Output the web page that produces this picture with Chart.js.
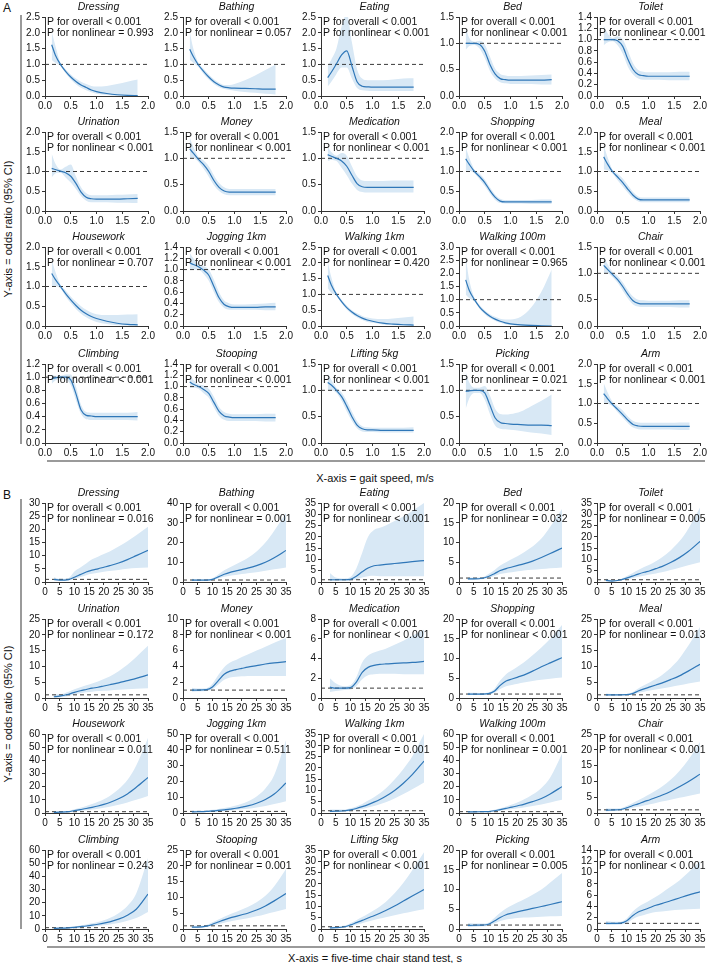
<!DOCTYPE html>
<html><head><meta charset="utf-8">
<script src="https://cdn.jsdelivr.net/npm/chart.js@4.4.0/dist/chart.umd.min.js"></script>
<style>
body{margin:0;background:#fff;}
#wrap{position:relative;width:709px;height:963px;overflow:hidden;font-family:"Liberation Sans",Arial,Helvetica,sans-serif;color:#111;background:#fff;}
canvas{position:absolute;}
.lbl{position:absolute;font-size:11px;white-space:nowrap;}
.bar{position:absolute;background:#9a9a9a;}
.ctr{transform:translate(-50%,-50%);}
.rot{transform:translate(-50%,-50%) rotate(-90deg);}
</style></head><body><div id="wrap">
<div class="lbl" style="left:3px;top:1px;font-size:12px">A</div>
<div class="lbl" style="left:3px;top:488px;font-size:12px">B</div>
<div class="bar" style="left:20px;top:15px;width:2px;height:429px"></div>
<div class="bar" style="left:47px;top:460px;width:658px;height:2px"></div>
<div class="bar" style="left:20px;top:499px;width:2px;height:430px"></div>
<div class="bar" style="left:47px;top:946px;width:658px;height:2px"></div>
<div class="lbl rot" style="left:8px;top:229px">Y-axis = odds ratio (95% CI)</div>
<div class="lbl rot" style="left:8px;top:714px">Y-axis = odds ratio (95% CI)</div>
<div class="lbl ctr" style="left:375px;top:478px">X-axis = gait speed, m/s</div>
<div class="lbl ctr" style="left:375px;top:958px">X-axis = five-time chair stand test, s</div>
</div>
<script>
// ---------- categories & labels ----------
const outcomes = ['Dressing','Bathing','Eating','Bed','Toilet','Urination','Money','Medication','Shopping','Meal','Housework','Jogging 1km','Walking 1km','Walking 100m','Chair','Climbing','Stooping','Lifting 5kg','Picking','Arm'];
const pOverall = '< 0.001';
const pNonlinearA = ['= 0.993','= 0.057','< 0.001','< 0.001','< 0.001','< 0.001','< 0.001','< 0.001','< 0.001','< 0.001','= 0.707','< 0.001','= 0.420','= 0.965','< 0.001','< 0.001','< 0.001','< 0.001','= 0.021','< 0.001'];
const pNonlinearB = ['= 0.016','= 0.001','< 0.001','= 0.032','= 0.005','= 0.172','< 0.001','< 0.001','< 0.001','= 0.013','= 0.011','= 0.511','= 0.001','= 0.001','< 0.001','= 0.243','= 0.001','< 0.001','= 0.005','< 0.001'];
const yMaxA = [2.5,2.5,2.5,1.5,1.4, 2.0,1.5,1.5,2.0,2.0, 2.0,1.4,2.5,3.0,1.5, 1.2,1.4,1.5,1.5,2.0];
const yStepA = [0.5,0.5,0.5,0.5,0.2, 0.5,0.5,0.5,0.5,0.5, 0.5,0.2,0.5,0.5,0.5, 0.2,0.2,0.5,0.5,0.5];
const yMaxB = [30,40,35,20,35, 25,10,8,20,25, 60,50,35,60,25, 60,25,35,20,14];
const yStepB = [5,10,5,5,5, 5,2,2,5,5, 10,10,5,10,5, 10,5,5,5,2];
const xTicksA = {min:0, max:2, step:0.5};
const xTicksB = {min:0, max:35, step:5};

// ---------- A: gait speed (m/s) ----------
const xA = [0.13,0.2,0.3,0.4,0.5,0.6,0.7,0.8,0.9,1.0,1.2,1.4,1.6,1.8];
const gDressingOR = [1.62,1.3,1.0,0.78,0.6,0.46,0.35,0.27,0.19,0.14,0.08,0.04,0.02,0.01];
const gDressingLo = [1.15,1.05,0.95,0.72,0.52,0.37,0.26,0.18,0.12,0.07,0.03,0.01,0.0,0.0];
const gDressingHi = [2.05,1.6,1.05,0.85,0.68,0.55,0.45,0.38,0.32,0.3,0.32,0.38,0.45,0.52];
const gBathingOR = [1.48,1.25,0.98,0.78,0.6,0.45,0.35,0.28,0.26,0.25,0.24,0.23,0.22,0.22];
const gBathingLo = [1.15,1.05,0.92,0.7,0.52,0.38,0.28,0.22,0.19,0.17,0.13,0.1,0.07,0.05];
const gBathingHi = [2.05,1.5,1.05,0.86,0.68,0.53,0.42,0.35,0.35,0.38,0.5,0.65,0.82,1.0];
const gEatingOR = [0.58,0.75,1.02,1.3,1.43,0.95,0.45,0.31,0.29,0.28,0.28,0.28,0.28,0.28];
const gEatingLo = [0.3,0.45,0.7,0.9,0.9,0.55,0.25,0.18,0.17,0.16,0.16,0.16,0.16,0.16];
const gEatingHi = [0.95,1.15,1.5,2.2,2.6,1.7,0.85,0.55,0.5,0.5,0.5,0.52,0.55,0.56];
const gBedOR = [1.0,1.0,1.0,0.98,0.85,0.6,0.42,0.33,0.31,0.3,0.3,0.3,0.3,0.31];
const gBedLo = [0.88,0.95,0.97,0.9,0.72,0.48,0.33,0.26,0.24,0.23,0.23,0.23,0.22,0.22];
const gBedHi = [1.3,1.1,1.03,1.05,0.98,0.75,0.52,0.42,0.39,0.38,0.38,0.39,0.4,0.41];
const gToiletOR = [1.0,1.0,1.0,0.98,0.88,0.65,0.47,0.38,0.36,0.35,0.35,0.35,0.35,0.35];
const gToiletLo = [0.9,0.95,0.97,0.9,0.75,0.52,0.38,0.31,0.29,0.29,0.29,0.28,0.28,0.28];
const gToiletHi = [1.25,1.12,1.03,1.06,1.0,0.8,0.58,0.46,0.43,0.42,0.42,0.42,0.43,0.43];
const gUrinationOR = [1.08,1.05,1.01,0.97,0.88,0.7,0.48,0.35,0.31,0.3,0.3,0.3,0.31,0.32];
const gUrinationLo = [0.85,0.95,0.97,0.85,0.72,0.56,0.38,0.26,0.22,0.22,0.22,0.21,0.21,0.2];
const gUrinationHi = [1.45,1.2,1.05,1.12,1.18,0.88,0.6,0.45,0.4,0.4,0.4,0.41,0.42,0.43];
const gMoneyOR = [1.18,1.1,0.98,0.88,0.75,0.58,0.45,0.38,0.36,0.36,0.36,0.36,0.36,0.36];
const gMoneyLo = [1.0,1.0,0.93,0.8,0.65,0.49,0.38,0.32,0.3,0.3,0.3,0.3,0.3,0.3];
const gMoneyHi = [1.4,1.22,1.03,0.96,0.85,0.68,0.53,0.45,0.42,0.42,0.42,0.42,0.42,0.42];
const gMedicationOR = [1.07,1.04,1.0,0.95,0.85,0.68,0.52,0.46,0.45,0.45,0.45,0.45,0.45,0.45];
const gMedicationLo = [0.95,0.97,0.95,0.82,0.68,0.52,0.4,0.36,0.35,0.35,0.35,0.35,0.35,0.35];
const gMedicationHi = [1.22,1.12,1.05,1.1,1.05,0.85,0.66,0.58,0.57,0.57,0.57,0.58,0.58,0.58];
const gShoppingOR = [1.32,1.18,1.0,0.87,0.72,0.52,0.35,0.25,0.23,0.23,0.23,0.23,0.23,0.23];
const gShoppingLo = [1.02,1.02,0.95,0.8,0.63,0.44,0.28,0.2,0.19,0.19,0.19,0.18,0.18,0.18];
const gShoppingHi = [1.62,1.35,1.05,0.94,0.8,0.6,0.42,0.31,0.28,0.28,0.28,0.28,0.29,0.29];
const gMealOR = [1.37,1.2,1.0,0.86,0.72,0.55,0.4,0.3,0.28,0.28,0.28,0.28,0.28,0.28];
const gMealLo = [1.05,1.03,0.95,0.78,0.62,0.46,0.32,0.24,0.22,0.22,0.22,0.22,0.22,0.22];
const gMealHi = [1.68,1.38,1.05,0.94,0.82,0.65,0.48,0.37,0.34,0.34,0.34,0.34,0.34,0.34];
const gHouseworkOR = [1.33,1.18,1.0,0.82,0.66,0.52,0.4,0.31,0.24,0.19,0.12,0.07,0.04,0.03];
const gHouseworkLo = [1.0,1.0,0.95,0.75,0.58,0.43,0.31,0.22,0.15,0.1,0.05,0.02,0.01,0.0];
const gHouseworkHi = [1.68,1.38,1.05,0.9,0.75,0.62,0.5,0.41,0.34,0.3,0.28,0.28,0.29,0.3];
const gJoggingOR = [1.12,1.09,1.05,0.99,0.9,0.7,0.5,0.38,0.34,0.33,0.33,0.33,0.34,0.34];
const gJoggingLo = [1.0,1.0,1.0,0.92,0.8,0.6,0.42,0.32,0.29,0.29,0.29,0.29,0.28,0.28];
const gJoggingHi = [1.3,1.2,1.1,1.06,1.0,0.82,0.6,0.45,0.4,0.38,0.38,0.39,0.4,0.41];
const gWalk1kmOR = [1.6,1.3,1.0,0.77,0.58,0.44,0.33,0.25,0.19,0.15,0.09,0.06,0.04,0.03];
const gWalk1kmLo = [1.2,1.05,0.95,0.72,0.52,0.38,0.27,0.19,0.13,0.1,0.05,0.02,0.01,0.0];
const gWalk1kmHi = [2.05,1.55,1.05,0.83,0.65,0.5,0.4,0.32,0.27,0.24,0.22,0.24,0.27,0.3];
const gWalk100mOR = [1.75,1.35,1.0,0.72,0.52,0.37,0.26,0.18,0.12,0.08,0.04,0.02,0.01,0.0];
const gWalk100mLo = [1.2,1.05,0.93,0.65,0.45,0.3,0.2,0.12,0.07,0.04,0.01,0.0,0.0,0.0];
const gWalk100mHi = [2.65,1.75,1.07,0.8,0.6,0.45,0.35,0.28,0.25,0.25,0.35,0.7,1.3,2.15];
const gChairOR = [1.15,1.08,0.98,0.88,0.75,0.6,0.48,0.43,0.42,0.42,0.42,0.42,0.42,0.42];
const gChairLo = [1.0,1.0,0.93,0.82,0.67,0.52,0.41,0.37,0.36,0.36,0.36,0.36,0.35,0.35];
const gChairHi = [1.33,1.18,1.03,0.95,0.83,0.68,0.56,0.5,0.49,0.48,0.48,0.48,0.49,0.49];
const gClimbingOR = [0.98,0.99,1.0,1.0,0.96,0.75,0.5,0.42,0.41,0.4,0.4,0.4,0.4,0.4];
const gClimbingLo = [0.9,0.95,0.97,0.96,0.88,0.65,0.44,0.36,0.35,0.35,0.35,0.35,0.35,0.34];
const gClimbingHi = [1.04,1.02,1.02,1.04,1.04,0.86,0.58,0.47,0.46,0.46,0.46,0.46,0.46,0.47];
const gStoopingOR = [1.08,1.04,1.0,0.95,0.88,0.72,0.56,0.48,0.46,0.45,0.45,0.45,0.45,0.45];
const gStoopingLo = [0.98,0.98,0.96,0.88,0.8,0.63,0.48,0.41,0.39,0.39,0.39,0.39,0.38,0.38];
const gStoopingHi = [1.2,1.12,1.04,1.02,0.96,0.82,0.64,0.55,0.52,0.51,0.51,0.51,0.52,0.52];
const gLiftingOR = [1.15,1.1,1.0,0.88,0.7,0.5,0.34,0.27,0.25,0.25,0.24,0.24,0.24,0.24];
const gLiftingLo = [1.0,1.0,0.95,0.8,0.6,0.42,0.28,0.22,0.21,0.21,0.2,0.2,0.2,0.2];
const gLiftingHi = [1.32,1.2,1.05,0.96,0.8,0.6,0.42,0.32,0.3,0.29,0.29,0.29,0.29,0.3];
const gPickingOR = [0.98,0.99,1.0,1.0,0.95,0.72,0.48,0.39,0.37,0.36,0.35,0.34,0.34,0.33];
const gPickingLo = [0.65,0.85,0.95,0.95,0.82,0.55,0.33,0.27,0.26,0.25,0.23,0.2,0.18,0.15];
const gPickingHi = [1.35,1.15,1.05,1.05,1.08,0.9,0.65,0.55,0.54,0.55,0.6,0.7,0.8,0.92];
const gArmOR = [1.25,1.13,0.98,0.85,0.72,0.58,0.47,0.43,0.42,0.42,0.42,0.42,0.42,0.42];
const gArmLo = [1.02,1.0,0.93,0.78,0.64,0.5,0.39,0.35,0.34,0.34,0.34,0.34,0.33,0.33];
const gArmHi = [1.52,1.3,1.05,0.93,0.82,0.67,0.56,0.52,0.51,0.51,0.51,0.51,0.52,0.52];

// ---------- B: five-time chair stand test (s) ----------
const xB = [3,5,8,10,12,14,16,18,20,22,25,28,31,35];
const cDressingOR = [1.0,0.7,0.9,1.8,2.8,3.8,4.5,5.0,5.6,6.2,7.2,8.5,10.0,12.0];
const cDressingLo = [0.5,0.4,0.6,1.2,1.9,2.6,3.1,3.5,3.9,4.2,4.6,5.0,5.3,5.5];
const cDressingHi = [1.8,1.2,1.5,4.0,5.5,7.0,8.6,9.6,10.6,11.6,13.5,15.5,17.8,21.0];
const cBathingOR = [0.9,0.9,0.95,1.3,2.6,3.9,4.9,5.6,6.3,7.0,8.3,10.0,12.3,16.0];
const cBathingLo = [0.5,0.6,0.7,0.9,1.8,2.6,3.2,3.6,4.0,4.4,5.0,5.7,6.4,7.3];
const cBathingHi = [1.6,1.3,1.3,1.9,3.8,5.9,7.5,9.0,10.5,12.2,15.5,20.0,26.0,35.0];
const cEatingOR = [1.0,1.0,1.0,1.2,2.5,4.5,6.2,7.2,7.5,7.8,8.2,8.6,9.0,9.5];
const cEatingLo = [0.3,0.5,0.6,0.7,1.2,2.0,2.6,2.8,2.6,2.5,2.5,2.5,2.5,2.5];
const cEatingHi = [4.0,2.0,1.6,2.2,6.0,13.0,20.0,23.0,24.0,25.0,27.0,29.0,31.5,35.0];
const cBedOR = [0.8,0.8,0.95,1.4,2.1,2.9,3.4,3.8,4.2,4.6,5.3,6.2,7.2,8.6];
const cBedLo = [0.5,0.55,0.7,1.0,1.5,2.0,2.3,2.5,2.7,2.9,3.1,3.3,3.5,3.7];
const cBedHi = [1.2,1.1,1.2,2.0,3.0,4.2,5.0,5.8,6.6,7.5,9.0,11.0,14.0,18.5];
const cToiletOR = [0.7,0.4,0.9,1.7,2.6,3.5,4.3,5.0,5.9,6.8,8.6,10.8,13.5,18.0];
const cToiletLo = [0.3,0.2,0.6,1.1,1.7,2.3,2.8,3.3,3.8,4.3,5.3,6.3,7.4,8.8];
const cToiletHi = [1.5,0.8,1.3,2.5,3.9,5.3,6.6,7.8,9.2,10.8,14.0,18.0,23.5,33.0];
const cUrinationOR = [0.4,0.6,1.2,1.8,2.3,2.7,3.1,3.4,3.8,4.2,4.8,5.5,6.2,7.3];
const cUrinationLo = [0.1,0.2,0.6,1.1,1.5,1.8,2.0,2.2,2.3,2.4,2.6,2.8,2.9,3.1];
const cUrinationHi = [1.2,1.2,2.0,2.8,3.4,4.0,4.6,5.2,6.0,6.8,8.5,10.5,13.0,16.5];
const cMoneyOR = [1.0,1.0,1.05,1.4,2.2,3.0,3.4,3.6,3.75,3.9,4.1,4.3,4.45,4.6];
const cMoneyLo = [0.8,0.85,0.9,1.1,1.7,2.3,2.6,2.7,2.75,2.8,2.8,2.8,2.8,2.8];
const cMoneyHi = [1.3,1.2,1.25,1.8,2.9,3.9,4.5,4.8,5.2,5.5,6.0,6.5,7.0,7.6];
const cMedicationOR = [1.1,1.0,1.0,1.05,1.6,2.6,3.1,3.3,3.4,3.45,3.5,3.55,3.6,3.7];
const cMedicationLo = [0.6,0.7,0.8,0.85,1.2,1.9,2.3,2.4,2.45,2.45,2.45,2.4,2.4,2.4];
const cMedicationHi = [2.0,1.5,1.2,1.3,2.1,3.6,4.3,4.6,4.8,5.0,5.4,5.8,6.3,6.9];
const cShoppingOR = [1.0,1.0,1.0,1.1,1.7,3.2,4.3,4.8,5.3,5.8,6.8,7.9,8.9,10.2];
const cShoppingLo = [0.7,0.75,0.8,0.85,1.3,2.3,3.0,3.3,3.6,3.9,4.3,4.6,4.9,5.2];
const cShoppingHi = [1.4,1.3,1.25,1.4,2.3,4.4,6.0,7.0,8.0,9.0,10.8,12.8,15.0,18.5];
const cMealOR = [1.0,1.0,1.0,1.05,1.4,2.2,2.9,3.5,4.1,4.7,5.8,7.0,8.5,10.7];
const cMealLo = [0.7,0.75,0.8,0.85,1.1,1.6,2.0,2.4,2.7,3.0,3.5,4.0,4.6,5.2];
const cMealHi = [1.4,1.3,1.25,1.3,1.8,3.0,4.0,5.0,6.0,7.2,9.5,12.5,16.5,22.5];
const cHouseworkOR = [0.5,0.6,1.0,1.8,2.6,3.4,4.3,5.3,6.5,8.0,10.8,14.5,19.5,27.0];
const cHouseworkLo = [0.2,0.3,0.6,1.1,1.6,2.1,2.7,3.3,4.0,4.8,6.3,8.0,10.0,13.0];
const cHouseworkHi = [1.2,1.2,1.6,2.8,4.0,5.4,6.8,8.5,10.5,13.0,18.0,25.0,36.0,57.0];
const cJoggingOR = [0.7,0.8,1.0,1.3,1.6,2.0,2.5,3.0,3.7,4.5,6.2,8.5,12.0,19.0];
const cJoggingLo = [0.3,0.4,0.6,0.8,1.0,1.3,1.6,1.9,2.3,2.7,3.5,4.5,5.7,7.5];
const cJoggingHi = [1.5,1.5,1.6,2.0,2.5,3.1,3.8,4.7,5.8,7.3,10.5,15.5,24.0,46.0];
const cWalk1kmOR = [0.7,0.8,1.0,1.4,2.0,2.8,3.7,4.8,6.0,7.4,10.0,13.2,17.0,23.0];
const cWalk1kmLo = [0.3,0.4,0.6,0.9,1.3,1.8,2.4,3.1,3.9,4.8,6.4,8.4,10.5,13.5];
const cWalk1kmHi = [1.5,1.5,1.6,2.1,2.9,4.0,5.5,7.0,8.8,10.8,14.8,19.5,25.0,35.0];
const cWalk100mOR = [0.8,0.9,1.0,1.1,1.7,2.6,3.5,4.4,5.5,6.6,8.6,11.0,14.5,20.0];
const cWalk100mLo = [0.4,0.5,0.7,0.8,1.2,1.8,2.4,3.0,3.6,4.2,5.3,6.5,8.0,10.0];
const cWalk100mHi = [1.5,1.4,1.4,1.6,2.4,3.6,5.0,6.4,8.2,10.2,14.0,19.0,27.0,45.0];
const cChairOR = [0.9,0.95,1.1,1.6,2.3,2.9,3.6,4.2,4.9,5.6,6.8,8.3,9.9,12.3];
const cChairLo = [0.5,0.6,0.8,1.1,1.6,2.0,2.4,2.8,3.2,3.6,4.2,4.8,5.4,6.2];
const cChairHi = [1.5,1.4,1.5,2.2,3.1,4.0,5.0,6.0,7.1,8.3,10.5,13.3,16.8,22.5];
const cClimbingOR = [0.5,0.6,0.9,1.3,1.8,2.3,2.9,3.6,4.4,5.4,7.5,10.5,15.0,26.5];
const cClimbingLo = [0.2,0.3,0.5,0.8,1.1,1.5,1.9,2.3,2.8,3.4,4.6,6.2,8.3,13.0];
const cClimbingHi = [1.2,1.2,1.5,2.0,2.6,3.4,4.3,5.4,6.7,8.3,12.0,17.5,27.0,54.0];
const cStoopingOR = [0.6,0.6,0.9,1.5,2.2,2.9,3.5,4.0,4.5,5.0,6.0,7.3,8.9,11.2];
const cStoopingLo = [0.3,0.35,0.6,1.0,1.5,2.0,2.4,2.8,3.1,3.4,4.0,4.7,5.4,6.3];
const cStoopingHi = [1.1,1.0,1.3,2.1,3.0,3.9,4.7,5.4,6.2,7.0,8.5,10.5,13.5,19.0];
const cLiftingOR = [0.5,0.6,1.0,1.8,2.8,3.8,4.9,5.9,7.0,8.2,10.2,12.4,14.6,17.5];
const cLiftingLo = [0.2,0.3,0.6,1.2,1.9,2.6,3.3,4.0,4.6,5.2,6.1,7.0,7.8,8.8];
const cLiftingHi = [1.1,1.0,1.5,2.6,3.9,5.3,6.8,8.3,10.0,12.0,15.8,20.5,26.0,34.0];
const cPickingOR = [0.9,0.95,1.0,1.2,2.0,2.9,3.6,4.0,4.4,4.7,5.2,5.7,6.2,6.9];
const cPickingLo = [0.5,0.6,0.7,0.85,1.4,2.0,2.4,2.6,2.8,2.9,3.0,3.1,3.2,3.3];
const cPickingHi = [1.5,1.4,1.4,1.6,2.8,4.1,5.2,6.0,6.8,7.5,8.7,10.0,11.8,14.2];
const cArmOR = [1.0,1.0,1.05,1.4,2.3,3.0,3.4,3.8,4.2,4.5,5.0,5.5,6.0,6.6];
const cArmLo = [0.7,0.75,0.8,1.0,1.7,2.2,2.5,2.8,3.0,3.1,3.3,3.4,3.5,3.6];
const cArmHi = [1.4,1.3,1.3,1.8,3.0,3.9,4.5,5.1,5.7,6.4,7.5,8.6,10.0,12.0];

// tables built from the named arrays
const gaitOR = [gDressingOR,gBathingOR,gEatingOR,gBedOR,gToiletOR,gUrinationOR,gMoneyOR,gMedicationOR,gShoppingOR,gMealOR,gHouseworkOR,gJoggingOR,gWalk1kmOR,gWalk100mOR,gChairOR,gClimbingOR,gStoopingOR,gLiftingOR,gPickingOR,gArmOR];
const gaitLo = [gDressingLo,gBathingLo,gEatingLo,gBedLo,gToiletLo,gUrinationLo,gMoneyLo,gMedicationLo,gShoppingLo,gMealLo,gHouseworkLo,gJoggingLo,gWalk1kmLo,gWalk100mLo,gChairLo,gClimbingLo,gStoopingLo,gLiftingLo,gPickingLo,gArmLo];
const gaitHi = [gDressingHi,gBathingHi,gEatingHi,gBedHi,gToiletHi,gUrinationHi,gMoneyHi,gMedicationHi,gShoppingHi,gMealHi,gHouseworkHi,gJoggingHi,gWalk1kmHi,gWalk100mHi,gChairHi,gClimbingHi,gStoopingHi,gLiftingHi,gPickingHi,gArmHi];
const chairOR = [cDressingOR,cBathingOR,cEatingOR,cBedOR,cToiletOR,cUrinationOR,cMoneyOR,cMedicationOR,cShoppingOR,cMealOR,cHouseworkOR,cJoggingOR,cWalk1kmOR,cWalk100mOR,cChairOR,cClimbingOR,cStoopingOR,cLiftingOR,cPickingOR,cArmOR];
const chairLo = [cDressingLo,cBathingLo,cEatingLo,cBedLo,cToiletLo,cUrinationLo,cMoneyLo,cMedicationLo,cShoppingLo,cMealLo,cHouseworkLo,cJoggingLo,cWalk1kmLo,cWalk100mLo,cChairLo,cClimbingLo,cStoopingLo,cLiftingLo,cPickingLo,cArmLo];
const chairHi = [cDressingHi,cBathingHi,cEatingHi,cBedHi,cToiletHi,cUrinationHi,cMoneyHi,cMedicationHi,cShoppingHi,cMealHi,cHouseworkHi,cJoggingHi,cWalk1kmHi,cWalk100mHi,cChairHi,cClimbingHi,cStoopingHi,cLiftingHi,cPickingHi,cArmHi];

// ---------- layout ----------
const FONT = '"Liberation Sans", Arial, Helvetica, sans-serif';
const colAxisX = [45,183,321,459,597];
const rowTopA = [0,115,230,347];
const rowTopB = [486,602,717,833];
const AXIS_W = 30, PLOT_W = 103, PAD_TOP = 17, X_H = 16, CANVAS_H = 112, PAD_R = 8;
const wrap = document.getElementById('wrap');

function makePanel(i, section){
  const isA = section === 'A';
  const col = i % 5, row = Math.floor(i / 5);
  const xs = isA ? xA : xB;
  const xt = isA ? xTicksA : xTicksB;
  const orv = isA ? gaitOR[i] : chairOR[i];
  const lov = isA ? gaitLo[i] : chairLo[i];
  const hiv = isA ? gaitHi[i] : chairHi[i];
  const ymax = isA ? yMaxA[i] : yMaxB[i];
  const ystep = isA ? yStepA[i] : yStepB[i];
  const pnl = isA ? pNonlinearA[i] : pNonlinearB[i];
  const title = outcomes[i];

  const cv = document.createElement('canvas');
  const W = AXIS_W + PLOT_W + PAD_R;
  cv.width = W; cv.height = CANVAS_H;
  cv.style.left = (colAxisX[col] - AXIS_W) + 'px';
  cv.style.top = (isA ? rowTopA[row] : rowTopB[row]) + 'px';
  cv.style.width = W + 'px'; cv.style.height = CANVAS_H + 'px';
  wrap.appendChild(cv);

  const pts = arr => arr.map((v,k)=>({x:xs[k], y:v}));
  const fmt = v => isA ? Number(v).toFixed(1) : String(Math.round(v));

  const textPlugin = {
    id: 'panelText' + section + i,
    afterDraw(chart){
      const {ctx, chartArea} = chart;
      ctx.save();
      ctx.fillStyle = '#111';
      ctx.textBaseline = 'middle';
      ctx.textAlign = 'center';
      ctx.font = 'italic 10.5px ' + FONT;
      ctx.fillText(title, (chartArea.left + chartArea.right)/2 + 2, chartArea.top - 10);
      ctx.textAlign = 'left';
      ctx.font = '10.5px ' + FONT;
      ctx.fillText('P for overall ' + pOverall, chartArea.left + 2, chartArea.top + 5);
      ctx.fillText('P for nonlinear ' + pnl, chartArea.left + 2, chartArea.top + 16.5);
      ctx.restore();
    }
  };

  const axisCommon = {
    border: {display:true, color:'#333', width:1},
    grid: {drawOnChartArea:false, drawTicks:true, tickLength:3, color:'#333', lineWidth:1},
  };

  new Chart(cv, {
    type: 'line',
    data: {
      datasets: [
        {data: pts(orv), borderColor:'#2f77b8', borderWidth:1.2, pointRadius:0, fill:false, cubicInterpolationMode:'monotone'},
        {data: [{x:xt.min,y:1},{x:xt.max,y:1}], borderColor:'#3a3a3a', borderWidth:1, borderDash:[4,3], pointRadius:0, fill:false},
        {data: pts(hiv), borderColor:'rgba(0,0,0,0)', borderWidth:0, backgroundColor:'#d8e8f5', pointRadius:0, fill:'+1', cubicInterpolationMode:'monotone'},
        {data: pts(lov), borderColor:'rgba(0,0,0,0)', borderWidth:0, pointRadius:0, fill:false, cubicInterpolationMode:'monotone'}
      ]
    },
    options: {
      responsive:false, animation:false, devicePixelRatio:1,
      layout: {padding:{top:PAD_TOP, right:PAD_R, left:0, bottom:0}},
      plugins: {legend:{display:false}, tooltip:{enabled:false}, title:{display:false}},
      events: [],
      scales: {
        x: Object.assign({}, axisCommon, {
          type:'linear', min:xt.min, max:xt.max,
          ticks:{stepSize:xt.step, autoSkip:false, maxRotation:0, padding:1, color:'#111', font:{size:10, family:FONT}, callback:v=>fmt(v)},
          afterFit: s => { s.height = X_H; }
        }),
        y: Object.assign({}, axisCommon, {
          type:'linear', min:0, max:ymax,
          ticks:{stepSize:ystep, autoSkip:false, padding:2, color:'#111', font:{size:10, family:FONT}, callback:v=>fmt(v)},
          afterFit: s => { s.width = AXIS_W; }
        })
      }
    },
    plugins: [textPlugin]
  });
}

for (let i = 0; i < outcomes.length; i++) makePanel(i, 'A');
for (let i = 0; i < outcomes.length; i++) makePanel(i, 'B');
</script></body></html>
